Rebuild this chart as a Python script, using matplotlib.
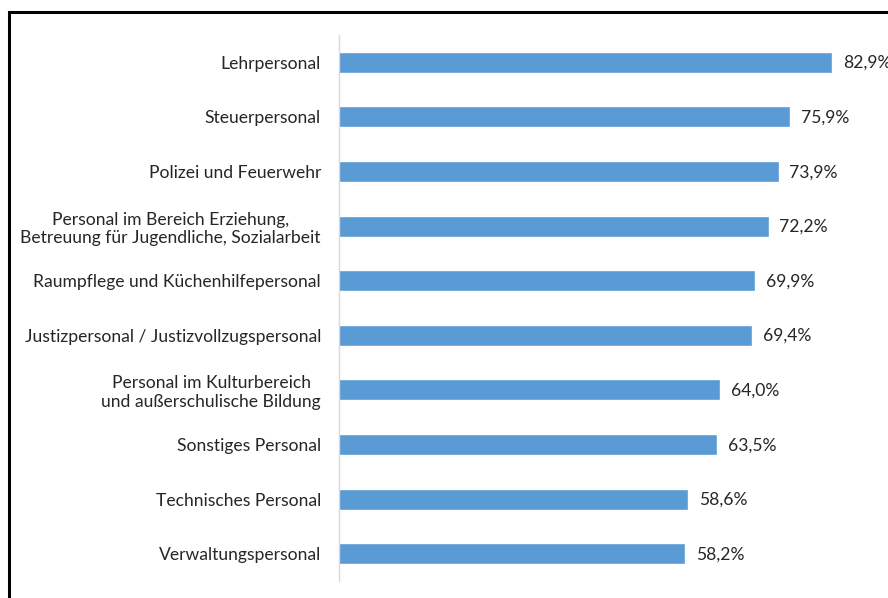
import matplotlib
matplotlib.use('Agg')
import matplotlib.pyplot as plt
import matplotlib.patches as mpatches

categories = [
    "Lehrpersonal",
    "Steuerpersonal",
    "Polizei und Feuerwehr",
    "Personal im Bereich Erziehung,\nBetreuung für Jugendliche, Sozialarbeit",
    "Raumpflege und Küchenhilfepersonal",
    "Justizpersonal / Justizvollzugspersonal",
    "Personal im Kulturbereich\nund außerschulische Bildung",
    "Sonstiges Personal",
    "Technisches Personal",
    "Verwaltungspersonal",
]
values = [82.9, 75.9, 73.9, 72.2, 69.9, 69.4, 64.0, 63.5, 58.6, 58.2]
value_labels = [f"{v:.1f}%".replace('.', ',') for v in values]

bar_color = '#5b9bd5'
text_color = '#262626'

plt.rcParams['font.family'] = ['Lato', 'DejaVu Sans']

fig = plt.figure(figsize=(8.88, 5.98), dpi=100)
ax = fig.add_axes([339/888, 1 - 581/598, 1 - 339/888, (581 - 35)/598])

y = list(range(len(categories)))
ax.barh(y, values, height=0.35, color=bar_color, edgecolor='#6fa8dc', linewidth=0.6)
ax.set_ylim(len(categories) - 0.5, -0.5)
ax.set_xlim(0, 549/5.935)

ax.set_yticks(y)
ax.set_yticklabels(categories, fontsize=12.6, color=text_color, multialignment='center')
ax.tick_params(axis='y', length=0, pad=13)
ax.set_xticks([])

for s in ['top', 'right', 'bottom']:
    ax.spines[s].set_visible(False)
ax.spines['left'].set_color('#d9d9d9')
ax.spines['left'].set_linewidth(1)

for yi, v, lab in zip(y, values, value_labels):
    ax.annotate(lab, (v, yi), xytext=(8.5, -0.5), textcoords='offset points',
                va='center', ha='left', fontsize=12.6, color=text_color,
                annotation_clip=False)

# outer frame, partly cut off at right and bottom
frame = mpatches.Rectangle((9/888, -0.5), 2, 1 - 12/598 + 0.5, transform=fig.transFigure,
                           fill=False, edgecolor='black', linewidth=2.2)
fig.patches.append(frame)

fig.savefig('out.png', dpi=100)
